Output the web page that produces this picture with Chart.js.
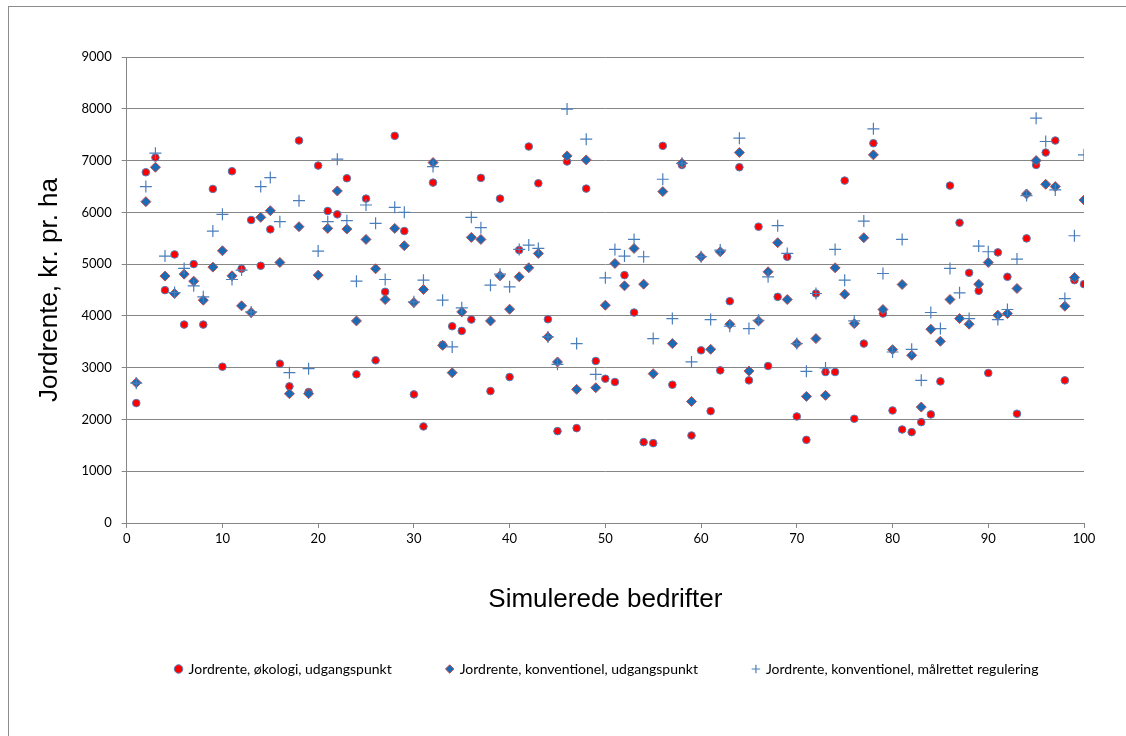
<!DOCTYPE html>
<html>
<head>
<meta charset="utf-8">
<script src="https://cdn.jsdelivr.net/npm/chart.js@4.4.0/dist/chart.umd.min.js"></script>
<style>
  html, body { margin: 0; padding: 0; background: #fff; }
  #wrap { position: relative; width: 1126px; height: 736px; overflow: hidden; }
  #frame { position: absolute; left: 8px; top: 6px; width: 1130px; height: 740px;
           border-left: 1px solid #8c8c8c; border-top: 1px solid #8c8c8c; }
  canvas { position: absolute; left: 0; top: 0; }
</style>
</head>
<body>
<div id="wrap">
  <div id="frame"></div>
  <canvas id="jordrenteChart" width="1126" height="736"></canvas>
</div>
<script>
// Simulerede bedrifter (x-akse)
const bedrifter = [1,2,3,4,5,6,7,8,9,10,11,12,13,14,15,16,17,18,19,20,
  21,22,23,24,25,26,27,28,29,30,31,32,33,34,35,36,37,38,39,40,
  41,42,43,44,45,46,47,48,49,50,51,52,53,54,55,56,57,58,59,60,
  61,62,63,64,65,66,67,68,69,70,71,72,73,74,75,76,77,78,79,80,
  81,82,83,84,85,86,87,88,89,90,91,92,93,94,95,96,97,98,99,100];

// Jordrente, økologi, udgangspunkt
const okologi = [2316,6774,7058,4497,5187,3832,5000,3832,6452,3019,
  6794,4910,5852,4968,5671,3077,2639,7387,2529,6903,
  6026,5961,6658,2871,6265,3142,4465,7477,5639,2484,
  1865,6574,3440,3800,3710,3929,6665,2548,6265,2819,
  5271,7271,6561,3935,1774,6981,1832,6458,3129,2787,
  2723,4787,4065,1561,1542,7284,2671,6916,1690,3335,
  2161,2948,4284,6871,2755,5723,3032,4368,5142,2058,
  1606,4432,2916,2916,6613,2013,3465,7335,4045,2174,
  1806,1755,1948,2097,2735,6516,5800,4832,4484,2897,
  5226,4755,2110,5497,6916,7155,7387,2755,4690,4613];

// Jordrente, konventionel, udgangspunkt
const konventionel = [2710,6206,6871,4768,4432,4806,4671,4303,4942,5258,
  4774,4194,4065,5903,6032,5032,2497,5723,2497,4787,
  5690,6413,5677,3903,5477,4910,4316,5690,5355,4258,
  4510,6961,3432,2903,4077,5516,5477,3903,4774,4129,
  4755,4929,5206,3594,3110,7090,2581,7013,2613,4206,
  5013,4581,5303,4613,2884,6400,3465,6948,2348,5142,
  3355,5239,3839,7155,2935,3903,4852,5413,4316,3465,
  2445,3561,2465,4929,4419,3852,5510,7110,4123,3348,
  4606,3239,2239,3742,3510,4316,3948,3839,4613,5032,
  4013,4045,4529,6355,7000,6542,6497,4187,4742,6239];

// Jordrente, konventionel, målrettet regulering
const malrettet = [2700,6497,7142,5155,4452,4916,4581,4368,5639,5961,
  4703,4884,4077,6497,6671,5819,2903,6226,2981,5252,
  5819,7026,5839,4671,6142,5787,4703,6097,6000,4271,
  4690,6884,4303,3400,4155,5903,5703,4594,4806,4561,
  5284,5368,5303,3594,3065,7994,3465,7413,2871,4735,
  5284,5155,5477,5142,3561,6639,3948,6948,3110,5142,
  3929,5271,3800,7432,3755,3916,4755,5742,5206,3465,
  2929,4432,2994,5284,4690,3903,5832,7613,4819,3303,
  5477,3355,2755,4065,3755,4916,4445,3948,5348,5239,
  3929,4123,5097,6323,7819,7368,6432,4335,5548,7110];

const yTicks = [0,1000,2000,3000,4000,5000,6000,7000,8000,9000];
const xTicks = [0,10,20,30,40,50,60,70,80,90,100];

function punkter(values) {
  return values.map((v, i) => ({ x: bedrifter[i], y: v }));
}

const gridColor = '#868686';
const tickFont = { family: 'Lato', size: 13 };
const titleFont = { family: 'Liberation Sans', size: 26 };

// Flytter legenden lidt mod højre, som i originalen
const legendShift = {
  id: 'legendShift',
  afterLayout(chart) {
    chart.legend.left += 61;
    chart.legend.right += 61;
  }
};

const ctx = document.getElementById('jordrenteChart').getContext('2d');
const chart = new Chart(ctx, {
  type: 'scatter',
  data: {
    datasets: [{
      label: 'Jordrente, økologi, udgangspunkt',
      data: punkter(okologi),
      pointStyle: 'circle',
      pointRadius: 3.8,
      backgroundColor: '#ff0000',
      borderColor: '#4f81bd',
      borderWidth: 1,
      order: 3
    }, {
      label: 'Jordrente, konventionel, udgangspunkt',
      data: punkter(konventionel),
      pointStyle: 'rectRot',
      pointRadius: 5,
      backgroundColor: '#1a6ab5',
      borderColor: '#c0504d',
      borderWidth: 1,
      order: 2
    }, {
      label: 'Jordrente, konventionel, målrettet regulering',
      data: punkter(malrettet),
      pointStyle: 'cross',
      pointRadius: 6,
      backgroundColor: '#4a7ebb',
      borderColor: '#4a7ebb',
      borderWidth: 1.2,
      order: 1
    }]
  },
  options: {
    responsive: false,
    animation: false,
    events: [],
    layout: { padding: { left: 8, top: 57, right: 42, bottom: 50 } },
    plugins: {
      legend: {
        position: 'bottom',
        labels: {
          usePointStyle: true,
          boxWidth: 6,
          boxHeight: 6,
          padding: 55,
          color: '#000',
          font: { family: 'Lato', size: 14 },
          sort: (a, b) => a.datasetIndex - b.datasetIndex
        }
      },
      tooltip: { enabled: false }
    },
    scales: {
      x: {
        type: 'linear',
        min: 0,
        max: 100,
        afterBuildTicks: (scale) => { scale.ticks = xTicks.map(v => ({ value: v })); },
        afterFit: (scale) => { scale.height = 84; },
        ticks: { color: '#000', font: tickFont, padding: 3, callback: (v) => String(v) },
        grid: { drawOnChartArea: false, tickLength: 5, color: gridColor },
        border: { color: gridColor },
        title: { display: true, text: 'Simulerede bedrifter', color: '#000', font: titleFont, padding: { top: 0, bottom: -8 } }
      },
      y: {
        min: 0,
        max: 9000,
        afterBuildTicks: (scale) => { scale.ticks = yTicks.map(v => ({ value: v })); },
        afterFit: (scale) => { scale.width = 118.7; },
        ticks: { color: '#000', font: tickFont, padding: 10, callback: (v) => String(v) },
        grid: { color: gridColor, tickLength: 5 },
        border: { color: gridColor },
        title: { display: true, text: 'Jordrente, kr. pr. ha', color: '#000', font: titleFont, padding: { top: 26, bottom: 0 } }
      }
    }
  },
  plugins: [legendShift]
});
</script>
</body>
</html>
